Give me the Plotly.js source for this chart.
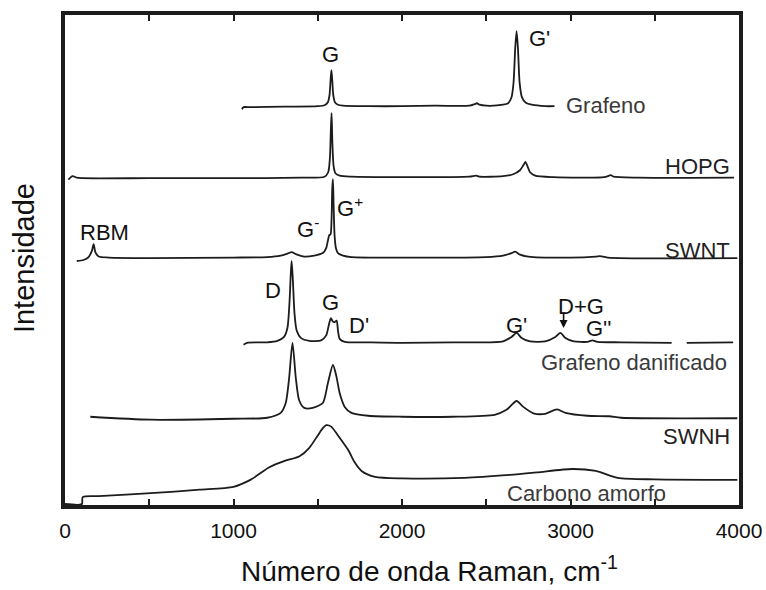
<!DOCTYPE html>
<html>
<head>
<meta charset="utf-8">
<script src="https://cdn.plot.ly/plotly-3.0.1.min.js"></script>
<style>html,body{margin:0;padding:0;background:#fff;}#chart{width:766px;height:590px;}</style>
</head>
<body>
<div id="chart"></div>
<script>
// Raman spectra (wavenumber in cm^-1, intensity in arbitrary units above each baseline)
const sampleNames = ["Grafeno", "HOPG", "SWNT", "Grafeno danificado", "SWNH", "Carbono amorfo"];
const offsets = [81.1, 66.7, 50.5, 33.3, 18.1, 0];

const grafenoX = [1050,1060,1100,1300,1500,1540,1560,1570,1576,1581,1586,1592,1602,1620,1650,1800,2000,2200,2400,2430,2445,2460,2500,2600,2630,2650,2662,2672,2680,2688,2698,2712,2735,2770,2850,2905];
const grafenoY = [-0.4,0,0,0.1,0.2,0.4,1.0,2.5,5.5,7.5,5.5,2.5,1.0,0.5,0.3,0.2,0.2,0.3,0.3,0.6,0.8,0.5,0.3,0.5,0.8,2.0,5.0,12.0,15.4,12.0,5.0,2.0,0.9,0.5,0.2,0.2];

const hopgX = [20,45,70,100,500,1000,1400,1540,1562,1572,1578,1582,1587,1594,1605,1630,1700,2000,2400,2440,2460,2600,2660,2700,2720,2732,2745,2760,2790,2900,3200,3240,3255,3400,3970];
const hopgY = [-0.3,0.4,0.1,0,0,0,0.1,0.3,1.2,4.0,10.0,13.2,7.0,2.5,1.0,0.5,0.3,0.2,0.3,0.5,0.3,0.4,0.8,1.6,2.6,3.3,2.4,1.2,0.5,0.2,0.2,0.6,0.3,0.1,0.1];

const swntX = [70,110,140,160,170,180,200,260,500,1000,1200,1280,1320,1345,1370,1420,1480,1530,1550,1560,1568,1576,1582,1586,1590,1594,1600,1608,1620,1650,1700,2000,2500,2600,2650,2672,2700,2750,3000,3150,3175,3220,3990];
const swntY = [-0.6,-0.4,0.2,1.5,2.8,1.2,0.3,0.1,0,0.1,0.2,0.5,0.9,1.2,0.8,0.3,0.5,1.0,2.0,3.5,4.6,4.8,8.0,14.0,16.0,11.0,4.5,2.0,1.0,0.5,0.2,0.1,0.2,0.5,1.0,1.3,0.7,0.3,0.1,0.3,0.4,0.1,0];

const danifX = [1060,1080,1200,1260,1300,1320,1332,1340,1345,1352,1362,1375,1400,1450,1520,1550,1565,1578,1590,1600,1612,1620,1630,1660,1800,2000,2300,2600,2650,2680,2710,2760,2850,2910,2940,2970,3020,3100,3130,3160,3300,3600,3640,3690,3965];
const danifY = [-0.4,0,0.1,0.4,1.2,3.0,8.0,14.0,16.6,13.0,6.0,2.5,1.0,0.4,0.5,1.5,3.5,5.0,4.3,4.2,4.5,2.5,0.8,0.2,0.1,0,0.1,0.3,1.2,2.0,1.0,0.3,0.3,1.2,2.0,1.0,0.3,0.2,0.5,0.2,0.1,0,null,0,0.1];

const swnhX = [150,510,1000,1200,1280,1310,1330,1350,1370,1390,1420,1470,1530,1560,1590,1610,1630,1660,1700,1800,2000,2300,2550,2620,2680,2720,2780,2850,2920,2970,3100,3230,3300,3990];
const swnhY = [0.2,-0.4,-0.2,0,1.0,3.0,8.0,15.2,8.0,3.5,2.0,2.0,3.0,7.0,10.7,8.5,5.0,2.2,1.0,0.4,0.2,0.2,0.6,1.6,3.4,2.2,0.9,0.8,1.7,1.0,0.4,0.3,0,-0.1];

const amorfoX = [0,100,105,200,510,800,1000,1100,1215,1300,1392,1450,1500,1530,1550,1580,1620,1680,1720,1760,1840,2000,2370,2640,2800,3010,3150,3280,3500,3990];
const amorfoY = [0.6,0.6,2.0,2.2,2.8,3.5,4.1,5.5,8.1,9.3,10.3,12.0,14.5,16.0,16.6,16.3,14.5,11.6,9.0,7.3,6.1,5.8,5.9,6.5,7.0,7.7,7.3,5.9,5.6,5.5];

const seriesX = [grafenoX, hopgX, swntX, danifX, swnhX, amorfoX];
const seriesY = [grafenoY, hopgY, swntY, danifY, swnhY, amorfoY];

// Peak labels: text, wavenumber, height (same units as the plot)
const peakText = ["G","G'","RBM","G<sup>-</sup>","G<sup>+</sup>","D","G","D'","G'","D+G","G''"];
const peakX    = [1574,2817,237,1444,1690,1237,1574,1745,2680,3065,3172];
const peakY    = [91.7,95.1,55.6,56.6,60.9,44.0,41.4,36.9,36.9,40.6,36.3];

// Sample name labels
const nameX = [2964,3960,3960,3940,3960,3095];
const nameY = [81.5,69.0,52.1,29.4,14.2,2.8];
const nameAnchor = ["left","right","right","right","right","center"];

const xTickVals = [0,1000,2000,3000,4000];

const lineColor = "#1c1c1c";
const traces = seriesX.map((xs, i) => ({
  type: "scatter", mode: "lines",
  x: xs,
  y: seriesY[i].map(v => v === null ? null : v + offsets[i]),
  name: sampleNames[i],
  line: {color: lineColor, width: 1.8, shape: "spline", smoothing: 0.7},
  connectgaps: false,
  hoverinfo: "skip"
}));

const font = "Liberation Sans, Arial, sans-serif";
const annotations = [];
peakText.forEach((t, i) => annotations.push({
  x: peakX[i], y: peakY[i], xref: "x", yref: "y", text: t, showarrow: false,
  font: {family: font, size: 22, color: "#111"},
  xanchor: "center", yanchor: "middle"
}));
sampleNames.forEach((t, i) => annotations.push({
  x: nameX[i], y: nameY[i], xref: "x", yref: "y", text: t, showarrow: false,
  font: {family: font, size: 22, color: (i===0||i===3||i===5) ? "#3a3a3a" : "#222"},
  xanchor: nameAnchor[i], yanchor: "middle"
}));
// arrow to the D+G band
annotations.push({
  x: 2959, y: 36.3, xref: "x", yref: "y", ax: 2959, ay: 39.8, axref: "x", ayref: "y",
  text: "", showarrow: true, arrowhead: 2, arrowsize: 1, arrowwidth: 1.6, arrowcolor: "#111"
});
// axis titles
annotations.push({
  x: 0.5415, y: -0.1705, xref: "paper", yref: "paper", xanchor: "center", yanchor: "bottom",
  text: "Número de onda Raman, cm<sup>-1</sup>", showarrow: false,
  font: {family: font, size: 28, color: "#111"}
});
annotations.push({
  x: -0.0608, y: 0.504, xref: "paper", yref: "paper", xanchor: "center", yanchor: "middle",
  text: "Intensidade", textangle: -90, showarrow: false,
  font: {family: font, size: 29, color: "#111"}
});

const layout = {
  width: 766, height: 590,
  margin: {l: 65, r: 27, t: 15, b: 85},
  paper_bgcolor: "#fff", plot_bgcolor: "#fff",
  showlegend: false,
  font: {family: font, color: "#111"},
  xaxis: {
    range: [0, 4000], tickvals: xTickVals, ticktext: xTickVals.map(String),
    ticks: "inside", ticklen: 6, tickwidth: 2, tickcolor: lineColor,
    minor: {dtick: 500, tick0: 0, ticks: "inside", ticklen: 6, tickwidth: 2, tickcolor: lineColor},
    showline: true, linewidth: 4, linecolor: lineColor, mirror: "ticks",
    showgrid: false, zeroline: false,
    ticklabelstandoff: 4,
    tickfont: {size: 21, color: "#111"}
  },
  yaxis: {
    range: [0.4, 99.8], showticklabels: false, ticks: "",
    showline: true, linewidth: 4, linecolor: lineColor, mirror: true,
    showgrid: false, zeroline: false
  },
  annotations: annotations
};

Plotly.newPlot("chart", traces, layout, {staticPlot: true, displayModeBar: false});
</script>
</body>
</html>
